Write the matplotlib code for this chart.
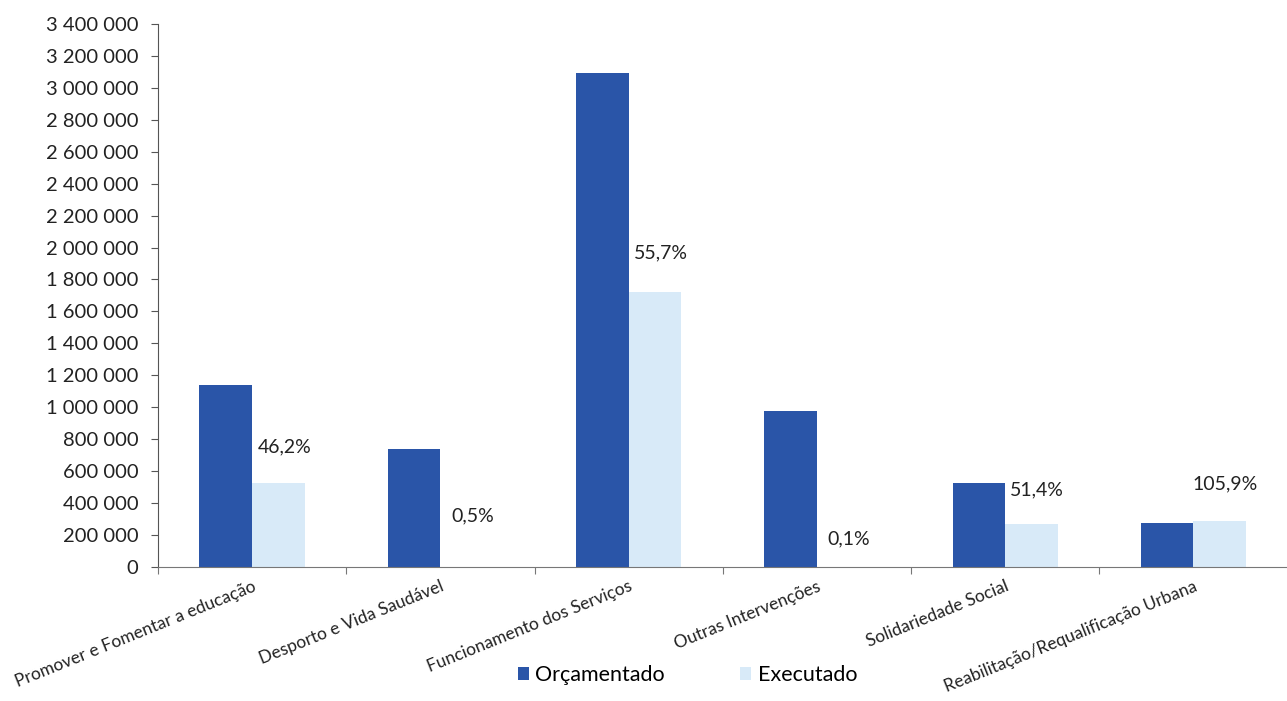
import matplotlib
matplotlib.use("Agg")
import matplotlib.pyplot as plt
import numpy as np
from matplotlib.ticker import FuncFormatter

plt.rcParams["font.family"] = ["Lato", "DejaVu Sans"]

categories = [
    "Promover e Fomentar a educação",
    "Desporto e Vida Saudável",
    "Funcionamento dos Serviços",
    "Outras Intervenções",
    "Solidariedade Social",
    "Reabilitação/Requalificação Urbana",
]
orcamentado = [1140000, 740000, 3090000, 978000, 527000, 275000]
executado = [527000, 3700, 1721000, 980, 271000, 291000]
pct_labels = ["46,2%", "0,5%", "55,7%", "0,1%", "51,4%", "105,9%"]

# vertical offset of the percentage labels above the executado bar (points)
label_offsets = [20, 30, 22, 14, 18, 20]

c_orc = "#2A55A8"
c_exe = "#D8EAF8"


def thousands(v, _):
    return f"{int(v):,}".replace(",", " ")


fig = plt.figure(figsize=(12.87, 7.01), dpi=100)
ax = fig.add_axes([0.1228, 0.191, 0.885, 0.775])

x = np.arange(len(categories))
w = 0.28
ax.bar(x - w / 2, orcamentado, w, color=c_orc, label="Orçamentado")
ax.bar(x + w / 2, executado, w, color=c_exe, label="Executado")

for xi, v, lab, off in zip(x, executado, pct_labels, label_offsets):
    ax.annotate(lab, (xi + w / 2 + 0.03, v), xytext=(0, off), textcoords="offset points",
                ha="center", va="bottom", fontsize=14, color="#222222")

ax.set_xlim(-0.5, len(categories) - 0.45)
ax.set_ylim(0, 3400000)
ax.set_yticks(np.arange(0, 3400001, 200000))
ax.yaxis.set_major_formatter(FuncFormatter(thousands))
ax.tick_params(axis="y", labelsize=14.5, length=5, color="#555555", pad=9, labelcolor="#222222")

ax.set_xticks(x - 0.5, minor=False)
ax.set_xticklabels([])
ax.set_xticks(x, minor=True)
ax.set_xticklabels(categories, minor=True, rotation=22, ha="right", rotation_mode="anchor",
                   fontsize=12.5, color="#222222")
ax.tick_params(axis="x", which="major", length=5, color="#777777")
ax.tick_params(axis="x", which="minor", length=0, pad=8)

for s in ["top", "right"]:
    ax.spines[s].set_visible(False)
ax.spines["left"].set_color("#555555")
ax.spines["bottom"].set_color("#777777")

ax.legend(loc="upper center", bbox_to_anchor=(0.465, -0.145), ncol=2, frameon=False,
          fontsize=15.5, handlelength=0.5, handleheight=0.5, columnspacing=3.5, handletextpad=0.3)

fig.savefig("out.png", dpi=100)
